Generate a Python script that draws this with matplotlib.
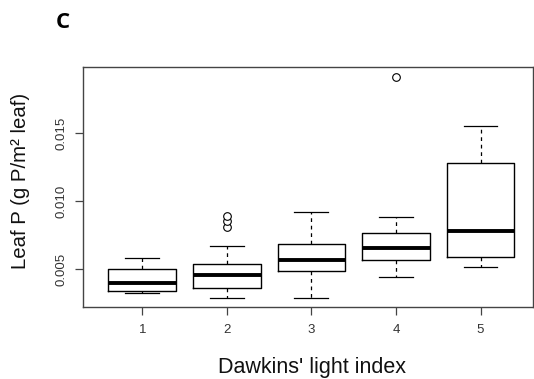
import matplotlib
matplotlib.use("Agg")
import matplotlib.pyplot as plt

plt.rcParams['font.family'] = ['Liberation Sans', 'DejaVu Sans']

# Leaf P per Dawkins' light index class (g P / m^2 leaf)
light_index = [1, 2, 3, 4, 5]
whisker_low = [0.00324, 0.00289, 0.00289, 0.00446, 0.00519]
q1 = [0.00343, 0.00360, 0.00488, 0.00568, 0.00593]
median = [0.00401, 0.00456, 0.00568, 0.00654, 0.00779]
q3 = [0.00504, 0.00541, 0.00686, 0.00765, 0.01284]
whisker_high = [0.00585, 0.00674, 0.00924, 0.00887, 0.01556]
outliers = [[], [0.00813, 0.00853, 0.00890], [], [0.01916], []]

ytick_values = [0.005, 0.010, 0.015]
ytick_labels = ["0.005", "0.010", "0.015"]

W, H = 534, 379
fig = plt.figure(figsize=(W / 100, H / 100), dpi=100)
ax = fig.add_axes([83 / W, 1 - 307 / H, (533 - 83) / W, (307 - 67) / H])

stats = []
for i in range(len(light_index)):
    stats.append(dict(whislo=whisker_low[i], q1=q1[i], med=median[i],
                      q3=q3[i], whishi=whisker_high[i], fliers=outliers[i]))

ax.bxp(stats, positions=light_index, widths=0.8, capwidths=0.4,
       showfliers=True,
       boxprops=dict(color='black', linewidth=1.0),
       medianprops=dict(color='black', linewidth=2.8, solid_capstyle='butt'),
       whiskerprops=dict(color='black', linewidth=0.9, linestyle=(0, (3, 3))),
       capprops=dict(color='black', linewidth=0.9),
       flierprops=dict(marker='o', markerfacecolor='white',
                       markeredgecolor='black', markersize=5.5,
                       markeredgewidth=0.8))

ax.set_xlim(0.3, 5.62)
ax.set_ylim(0.00223, 0.01988)

for s in ax.spines.values():
    s.set_color('#444444')
    s.set_linewidth(1.0)

ax.set_xticks(light_index)
ax.set_xticklabels([str(v) for v in light_index])
ax.set_yticks(ytick_values)
ax.set_yticklabels(ytick_labels, rotation=90, va='center')
ax.tick_params(axis='both', length=6, width=0.9, color='#444444',
               labelsize=9.5, labelcolor='#333333', pad=6)
ax.tick_params(axis='y', pad=5)

fig.text(21 / W, 1 - 181 / H, "Leaf P (g P/m\u00b2 leaf)", rotation=90,
         ha='center', va='center', fontsize=14.7, color='#111111')
fig.text(312 / W, 1 - 367 / H, "Dawkins' light index",
         ha='center', va='center', fontsize=15.5, color='#111111')
fig.text(63 / W, 1 - 23 / H, "C", ha='center', va='center',
         fontsize=16, fontweight='bold', family=['Open Sans', 'DejaVu Sans'])

fig.savefig("out.png", dpi=100)
